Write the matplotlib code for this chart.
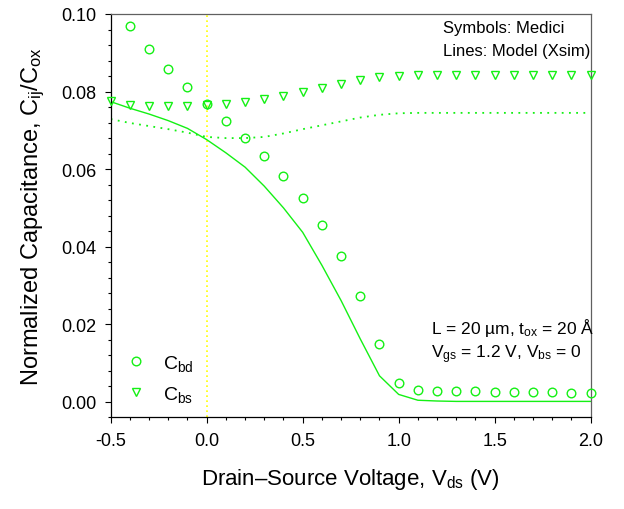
import numpy as np
import matplotlib
matplotlib.use('Agg')
import matplotlib.pyplot as plt
from matplotlib.lines import Line2D
from matplotlib.ticker import MultipleLocator, FormatStrFormatter

# ── Data ────────────────────────────────────────────────────────────
vds_medici_bd = [-0.4, -0.3, -0.2, -0.1, 0.0, 0.1, 0.2, 0.3, 0.4, 0.5, 0.6, 0.7,
                 0.8, 0.9, 1.0, 1.1, 1.2, 1.3, 1.4, 1.5, 1.6, 1.7, 1.8, 1.9, 2.0]
cbd_medici = [0.0970, 0.0911, 0.0859, 0.0811, 0.0767, 0.0725, 0.0680, 0.0633,
              0.0581, 0.0525, 0.0456, 0.0377, 0.0274, 0.0149, 0.0048, 0.0030,
              0.0029, 0.0028, 0.0027, 0.0026, 0.0025, 0.0024, 0.0024, 0.0023, 0.0022]

vds_grid = [-0.5, -0.4, -0.3, -0.2, -0.1, 0.0, 0.1, 0.2, 0.3, 0.4, 0.5, 0.6, 0.7,
            0.8, 0.9, 1.0, 1.1, 1.2, 1.3, 1.4, 1.5, 1.6, 1.7, 1.8, 1.9, 2.0]
cbs_medici = [0.0775, 0.0765, 0.0764, 0.0763, 0.0764, 0.0765, 0.0767, 0.0772,
              0.0781, 0.0789, 0.0798, 0.0809, 0.0820, 0.0830, 0.0838, 0.0841,
              0.0842, 0.0842, 0.0842, 0.0842, 0.0842, 0.0842, 0.0842, 0.0842,
              0.0842, 0.0842]

cbd_model = [0.0774, 0.0757, 0.0742, 0.0725, 0.0705, 0.0676, 0.0642, 0.0605,
             0.0556, 0.0500, 0.0437, 0.0352, 0.0261, 0.0162, 0.0067, 0.0019,
             0.0004, 0.0002, 0.0001, 0.0001, 0.0001, 0.0001, 0.0001, 0.0001,
             0.0001, 0.0001]
cbs_model = [0.0729, 0.0719, 0.0711, 0.0703, 0.0694, 0.0683, 0.0680, 0.0680,
             0.0683, 0.0692, 0.0703, 0.0713, 0.0723, 0.0733, 0.0740, 0.0744,
             0.0745, 0.0745, 0.0745, 0.0745, 0.0745, 0.0745, 0.0745, 0.0745,
             0.0745, 0.0745]

GREEN = '#14f014'
YELLOW = '#ffff00'

plt.rcParams['font.family'] = ['Liberation Sans', 'DejaVu Sans']
plt.rcParams['mathtext.fontset'] = 'custom'
plt.rcParams['mathtext.rm'] = 'Liberation Sans'
plt.rcParams['mathtext.it'] = 'Liberation Sans:italic'

fig = plt.figure(figsize=(6.24, 5.10), dpi=100, facecolor='white')
ax = fig.add_axes([0.1774, 0.1798, 0.7692, 0.7908])

# ── Curves ──────────────────────────────────────────────────────────
ax.axvline(0.0, color=YELLOW, lw=1.2, ls=(0, (1, 2)), zorder=1)
ax.plot(vds_grid, cbd_model, color=GREEN, lw=1.0, zorder=2)
ax.plot(vds_grid, cbs_model, color=GREEN, lw=1.3, ls=(0, (1, 3)), zorder=2)
ax.plot(vds_medici_bd, cbd_medici, ls='none', marker='o', ms=6.2, mfc='none',
        mec=GREEN, mew=1.0, clip_on=False, zorder=3)
ax.plot(vds_grid, cbs_medici, ls='none', marker='v', ms=6.2, mfc='none',
        mec=GREEN, mew=1.0, clip_on=False, zorder=3)

# ── Axes ────────────────────────────────────────────────────────────
ax.set_xlim(-0.5, 2.0)
ax.set_ylim(-0.004, 0.10)
ax.xaxis.set_major_locator(MultipleLocator(0.5))
ax.xaxis.set_minor_locator(MultipleLocator(0.1))
ax.yaxis.set_major_locator(MultipleLocator(0.02))
ax.yaxis.set_minor_locator(MultipleLocator(0.004))
ax.xaxis.set_major_formatter(FormatStrFormatter('%.1f'))
ax.yaxis.set_major_formatter(FormatStrFormatter('%.2f'))
ax.set_yticks([0.0, 0.02, 0.04, 0.06, 0.08, 0.10])
ax.tick_params(which='both', direction='out', top=False, right=False,
               width=0.8, labelsize=13, pad=6)
ax.tick_params(which='major', length=4.5)
ax.tick_params(which='minor', length=2.5)
for side in ['top', 'right']:
    ax.spines[side].set_color('#606060')
for spine in ax.spines.values():
    spine.set_linewidth(0.9)

ax.set_xlabel(r'Drain–Source Voltage, V$_{\mathrm{ds}}$ (V)', fontsize=16, labelpad=12)
ax.set_ylabel(r'Normalized Capacitance, C$_{\mathrm{ij}}$/C$_{\mathrm{ox}}$', fontsize=17,
              labelpad=10)

# ── Annotations ─────────────────────────────────────────────────────
ax.text(1.231, 0.0964, 'Symbols: Medici', fontsize=12, va='center', ha='left')
ax.text(1.231, 0.0907, 'Lines: Model (Xsim)', fontsize=12, va='center', ha='left')
ax.text(1.168, 0.0193, r'L = 20 µm, t$_{\mathrm{ox}}$ = 20 Å', fontsize=12.5,
        va='center', ha='left')
ax.text(1.168, 0.0123, r'V$_{\mathrm{gs}}$ = 1.2 V, V$_{\mathrm{bs}}$ = 0', fontsize=12.5,
        va='center', ha='left')

handles = [
    Line2D([], [], ls='none', marker='o', ms=6.2, mfc='none', mec=GREEN, mew=1.0),
    Line2D([], [], ls='none', marker='v', ms=6.2, mfc='none', mec=GREEN, mew=1.0),
]
ax.legend(handles, [r'C$_{\mathrm{bd}}$', r'C$_{\mathrm{bs}}$'], loc='lower left',
          bbox_to_anchor=(0.0, 0.0), frameon=False, fontsize=14,
          handlelength=1.2, handletextpad=0.8, labelspacing=0.55, borderaxespad=0.3)

fig.savefig('out.png', dpi=100, facecolor='white')
